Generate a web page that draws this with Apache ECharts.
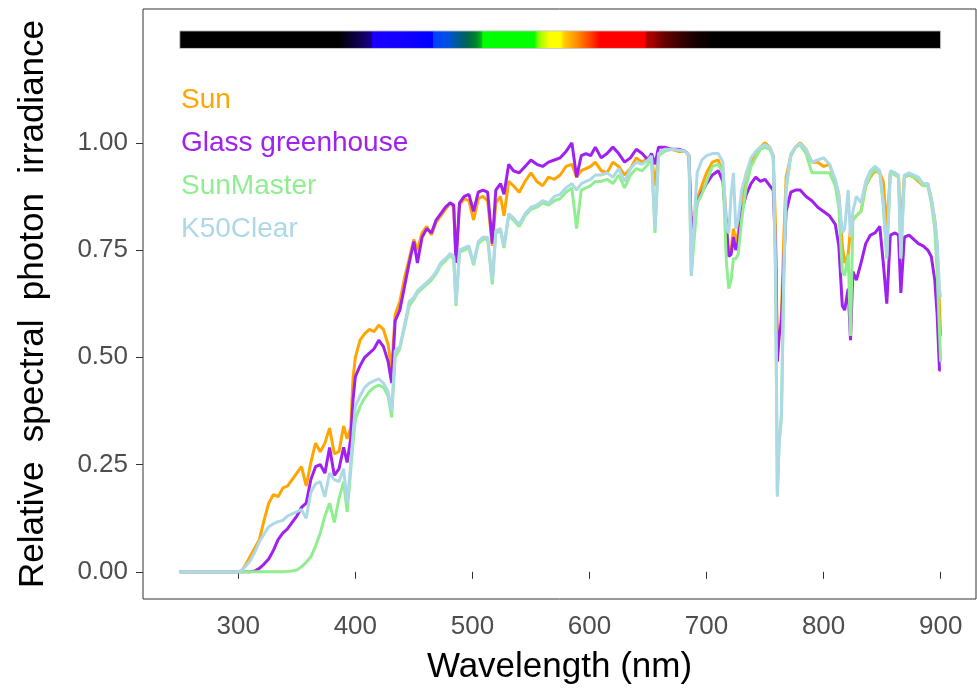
<!DOCTYPE html>
<html><head><meta charset="utf-8">
<script src="https://cdn.jsdelivr.net/npm/echarts@6/dist/echarts.min.js"></script>
<style>html,body{margin:0;padding:0;background:#fff}#c{width:977px;height:690px}</style>
</head><body><div id="c"></div>
<script>
// Wavelength grid (nm)
const wavelength = [
  250, 300, 303, 306, 310, 314, 318, 322, 326, 330,
  334, 338, 342, 346, 350, 354, 358, 362, 366, 370,
  374, 378, 382, 386, 390, 393, 396, 398, 400, 404,
  408, 412, 416, 420, 424, 428, 431, 434, 438, 442,
  446, 450, 453, 457, 461, 465, 469, 473, 477, 481,
  484, 486, 489, 493, 497, 501, 505, 509, 513, 517,
  520, 524, 527, 531, 535, 540, 545, 550, 555, 560,
  565, 570, 575, 580, 585, 589, 593, 597, 601, 605,
  610, 615, 620, 625, 630, 635, 640, 645, 650, 653,
  656, 659, 664, 670, 676, 682, 685, 687, 689, 692,
  696, 700, 705, 710, 714, 717, 719, 721, 723, 725,
  727, 730, 734, 738, 742, 746, 750, 754, 757, 759,
  760.5, 762, 764, 766, 768, 772, 776, 780, 785, 790,
  795, 800, 805, 810, 813, 816, 818, 821, 823, 825,
  828, 832, 836, 840, 844, 848, 851, 854, 857, 861,
  864, 866, 869, 873, 877, 881, 885, 889, 892, 895,
  897, 899, 900
];
const sun = [
  0, 0, 0.003, 0.015, 0.035, 0.055, 0.075, 0.12, 0.16, 0.18,
  0.175, 0.195, 0.2, 0.215, 0.23, 0.245, 0.20, 0.255, 0.30, 0.28,
  0.30, 0.335, 0.275, 0.28, 0.34, 0.31, 0.335, 0.45, 0.50, 0.54,
  0.555, 0.565, 0.56, 0.575, 0.565, 0.53, 0.47, 0.60, 0.63, 0.685,
  0.73, 0.775, 0.75, 0.79, 0.805, 0.785, 0.815, 0.83, 0.845, 0.86,
  0.85, 0.73, 0.855, 0.87, 0.865, 0.82, 0.87, 0.875, 0.865, 0.76,
  0.86, 0.875, 0.83, 0.91, 0.90, 0.885, 0.91, 0.93, 0.91, 0.90,
  0.92, 0.915, 0.925, 0.945, 0.95, 0.92, 0.935, 0.94, 0.945, 0.955,
  0.935, 0.93, 0.955, 0.945, 0.925, 0.94, 0.965, 0.955, 0.965, 0.97,
  0.90, 0.975, 0.985, 0.985, 0.98, 0.98, 0.97, 0.80, 0.82, 0.87,
  0.90, 0.93, 0.955, 0.96, 0.93, 0.82, 0.74, 0.75, 0.80, 0.77,
  0.79, 0.86, 0.93, 0.955, 0.975, 0.99, 1.0, 0.99, 0.97, 0.80,
  0.50, 0.55, 0.60, 0.78, 0.92, 0.97, 0.99, 1.0, 0.985, 0.955,
  0.955, 0.945, 0.95, 0.91, 0.88, 0.76, 0.72, 0.74, 0.80, 0.82,
  0.83, 0.84, 0.90, 0.92, 0.935, 0.93, 0.91, 0.80, 0.93, 0.93,
  0.92, 0.80, 0.92, 0.925, 0.92, 0.91, 0.90, 0.905, 0.87, 0.82,
  0.76, 0.62, 0.55
];
const glassGreenhouse = [
  0, 0, 0, 0, 0, 0.002, 0.008, 0.018, 0.03, 0.05,
  0.075, 0.09, 0.10, 0.115, 0.13, 0.15, 0.16, 0.215, 0.245, 0.25,
  0.23, 0.29, 0.225, 0.24, 0.29, 0.255, 0.31, 0.40, 0.455, 0.48,
  0.50, 0.51, 0.52, 0.54, 0.525, 0.49, 0.44, 0.585, 0.61, 0.665,
  0.72, 0.77, 0.72, 0.78, 0.80, 0.79, 0.82, 0.835, 0.85, 0.86,
  0.855, 0.72, 0.86, 0.875, 0.88, 0.84, 0.885, 0.89, 0.885, 0.765,
  0.89, 0.905, 0.88, 0.95, 0.935, 0.93, 0.945, 0.96, 0.95, 0.945,
  0.955, 0.96, 0.965, 0.98, 1.0, 0.92, 0.97, 0.975, 0.97, 0.99,
  0.965, 0.975, 0.99, 0.975, 0.955, 0.965, 0.985, 0.975, 0.96, 0.975,
  0.95, 0.99, 0.99, 0.985, 0.985, 0.98, 0.97, 0.80, 0.82, 0.86,
  0.885, 0.905, 0.925, 0.935, 0.91, 0.80, 0.735, 0.74, 0.78, 0.75,
  0.77, 0.84, 0.88, 0.905, 0.92, 0.91, 0.915, 0.90, 0.89, 0.75,
  0.49, 0.55, 0.58, 0.72, 0.84, 0.885, 0.89, 0.89, 0.875, 0.865,
  0.85, 0.84, 0.83, 0.81, 0.76, 0.62, 0.61, 0.66, 0.54, 0.70,
  0.68, 0.72, 0.765, 0.785, 0.79, 0.805, 0.72, 0.625, 0.785, 0.79,
  0.785, 0.65, 0.78, 0.785, 0.775, 0.765, 0.76, 0.75, 0.735, 0.68,
  0.60, 0.47, 0.47
];
const sunMaster = [
  0, 0, 0, 0, 0, 0, 0, 0, 0, 0,
  0, 0, 0.001, 0.002, 0.004, 0.012, 0.022, 0.035, 0.06, 0.09,
  0.13, 0.16, 0.115, 0.17, 0.21, 0.14, 0.235, 0.30, 0.355, 0.385,
  0.405, 0.42, 0.43, 0.435, 0.43, 0.41, 0.36, 0.50, 0.52, 0.57,
  0.62, 0.635, 0.65, 0.66, 0.67, 0.68, 0.695, 0.715, 0.725, 0.738,
  0.73, 0.62, 0.745, 0.75, 0.755, 0.715, 0.765, 0.775, 0.775, 0.67,
  0.79, 0.795, 0.755, 0.83, 0.82, 0.805, 0.83, 0.845, 0.85, 0.86,
  0.855, 0.865, 0.87, 0.885, 0.895, 0.80, 0.89, 0.895, 0.90, 0.91,
  0.91, 0.915, 0.905, 0.925, 0.895, 0.925, 0.94, 0.935, 0.95, 0.965,
  0.79, 0.97, 0.98, 0.985, 0.983, 0.98, 0.97, 0.69, 0.76, 0.86,
  0.88, 0.91, 0.945, 0.95, 0.93, 0.72, 0.66, 0.68, 0.73, 0.73,
  0.74, 0.82, 0.90, 0.945, 0.965, 0.985, 0.99, 0.985, 0.965, 0.68,
  0.18, 0.30, 0.36, 0.68, 0.89, 0.97, 0.99, 0.995, 0.975, 0.93,
  0.93, 0.93, 0.93, 0.90, 0.85, 0.70, 0.69, 0.74, 0.55, 0.82,
  0.83, 0.84, 0.90, 0.925, 0.94, 0.93, 0.855, 0.73, 0.93, 0.925,
  0.92, 0.73, 0.92, 0.925, 0.92, 0.915, 0.90, 0.90, 0.86, 0.80,
  0.70, 0.56, 0.49
];
const k50Clear = [
  0, 0, 0.004, 0.012, 0.025, 0.045, 0.07, 0.088, 0.105, 0.112,
  0.117, 0.12, 0.13, 0.135, 0.14, 0.145, 0.125, 0.185, 0.205, 0.21,
  0.175, 0.23, 0.215, 0.21, 0.24, 0.16, 0.25, 0.32, 0.385, 0.41,
  0.43, 0.44, 0.445, 0.45, 0.44, 0.42, 0.375, 0.515, 0.525, 0.575,
  0.63, 0.64, 0.655, 0.665, 0.675, 0.685, 0.70, 0.72, 0.73, 0.742,
  0.735, 0.625, 0.75, 0.755, 0.76, 0.72, 0.77, 0.78, 0.78, 0.68,
  0.795, 0.80, 0.76, 0.835, 0.825, 0.81, 0.835, 0.85, 0.855, 0.865,
  0.86, 0.875, 0.88, 0.895, 0.905, 0.89, 0.905, 0.91, 0.915, 0.925,
  0.925, 0.93, 0.92, 0.94, 0.91, 0.94, 0.955, 0.95, 0.96, 0.97,
  0.80, 0.975, 0.985, 0.985, 0.983, 0.98, 0.97, 0.69, 0.80, 0.93,
  0.96, 0.97, 0.975, 0.975, 0.955, 0.80, 0.79, 0.88, 0.93, 0.80,
  0.82, 0.89, 0.93, 0.965, 0.98, 0.99, 0.995, 0.99, 0.97, 0.70,
  0.175, 0.30, 0.37, 0.70, 0.90, 0.975, 0.99, 0.998, 0.985, 0.955,
  0.96, 0.965, 0.95, 0.915, 0.88, 0.79, 0.80, 0.89, 0.78, 0.84,
  0.875, 0.86, 0.91, 0.935, 0.945, 0.935, 0.86, 0.735, 0.935, 0.93,
  0.925, 0.735, 0.925, 0.93, 0.925, 0.92, 0.905, 0.905, 0.87, 0.82,
  0.77, 0.66, 0.64
];
const seriesNames = ['Sun', 'Glass greenhouse', 'SunMaster', 'K50Clear'];
const seriesColors = ['#FFA500', '#A020F0', '#90EE90', '#ADD8E6'];
const xTicks = [300, 400, 500, 600, 700, 800, 900];
const yTicks = [0, 0.25, 0.5, 0.75, 1];
// colour bar: wavelength (nm) -> colour
const barRange = [250, 900];
const barStops = [
  [250, '#000000'], [386, '#000000'], [395, '#08002a'], [405, '#120058'], [414, '#180090'],
  [415, '#1a00ff'], [440, '#1200ff'], [466, '#0000ff'], [467, '#0040ff'], [480, '#0050e0'],
  [484, '#0058b0'], [490, '#005c80'], [497, '#006a48'], [504, '#008a28'], [508, '#00c010'],
  [509, '#00ff00'], [553, '#00ff00'], [556, '#80ff00'], [561, '#c8ff00'], [566, '#ffff00'],
  [575, '#ffff00'], [578, '#ffd000'], [583, '#ffb000'], [589, '#ff9000'], [596, '#ff6000'],
  [603, '#ff3000'], [609, '#ff0000'], [647, '#ff0000'], [649, '#b00000'], [655, '#a00000'],
  [662, '#700000'], [675, '#400000'], [690, '#180000'], [705, '#000000'], [900, '#000000']
];

const FONT = '"Liberation Sans", Arial, sans-serif';
const chart = echarts.init(document.getElementById('c'), null, { renderer: 'canvas' });
const values = [sun, glassGreenhouse, sunMaster, k50Clear];
const lineSeries = values.map((arr, k) => ({
  type: 'line',
  name: seriesNames[k],
  data: wavelength.map((w, i) => [w, arr[i]]),
  showSymbol: false,
  symbol: 'none',
  lineStyle: { width: 3, color: seriesColors[k] },
  itemStyle: { color: seriesColors[k] },
  z: 3 + k,
  animation: false
}));
const barSeries = {
  type: 'custom',
  data: [[barRange[0], barRange[1]]],
  encode: { x: [0, 1] },
  silent: true,
  animation: false,
  z: 2,
  renderItem: (params, api) => {
    const p0 = api.coord([api.value(0), 1.261]);
    const p1 = api.coord([api.value(1), 1.220]);
    const span = barRange[1] - barRange[0];
    return {
      type: 'rect',
      shape: { x: p0[0], y: p0[1], width: p1[0] - p0[0], height: p1[1] - p0[1] },
      style: {
        fill: new echarts.graphic.LinearGradient(0, 0, 1, 0,
          barStops.map(s => ({ offset: (s[0] - barRange[0]) / span, color: s[1] }))),
        stroke: '#c8c8c8', lineWidth: 1
      }
    };
  }
};
const legendY = [100.5, 143.5, 186.5, 229.2];
chart.setOption({
  animation: false,
  backgroundColor: '#ffffff',
  grid: { left: 143, right: 1, top: 9, bottom: 90.5, show: true, borderColor: '#333333', borderWidth: 1, backgroundColor: 'transparent' },
  xAxis: {
    type: 'value', min: 218.6, max: 930.2,
    name: 'Wavelength (nm)', nameLocation: 'middle', nameGap: 51,
    nameTextStyle: { fontSize: 35, color: '#000000', fontFamily: FONT },
    axisLine: { show: false },
    axisTick: { show: true, length: 7, lineStyle: { color: '#333333', width: 1 }, customValues: xTicks },
    axisLabel: { fontSize: 26, color: '#4D4D4D', fontFamily: FONT, margin: 15, customValues: xTicks },
    splitLine: { show: false }
  },
  yAxis: {
    type: 'value', min: -0.0634, max: 1.312,
    name: 'Relative  spectral  photon  irradiance', nameLocation: 'middle', nameGap: 92,
    nameTextStyle: { fontSize: 35, color: '#000000', fontFamily: FONT },
    axisLine: { show: false },
    axisTick: { show: true, length: 7, lineStyle: { color: '#333333', width: 1 }, customValues: yTicks },
    axisLabel: { fontSize: 26, color: '#4D4D4D', fontFamily: FONT, margin: 15, customValues: yTicks, formatter: v => v.toFixed(2) },
    splitLine: { show: false }
  },
  graphic: seriesNames.map((n, k) => ({
    type: 'text', x: 181, y: legendY[k], z: 10,
    style: { text: n, fill: seriesColors[k], font: '28px ' + FONT, verticalAlign: 'middle', align: 'left' }
  })),
  series: [barSeries].concat(lineSeries)
});
</script>
</body></html>
